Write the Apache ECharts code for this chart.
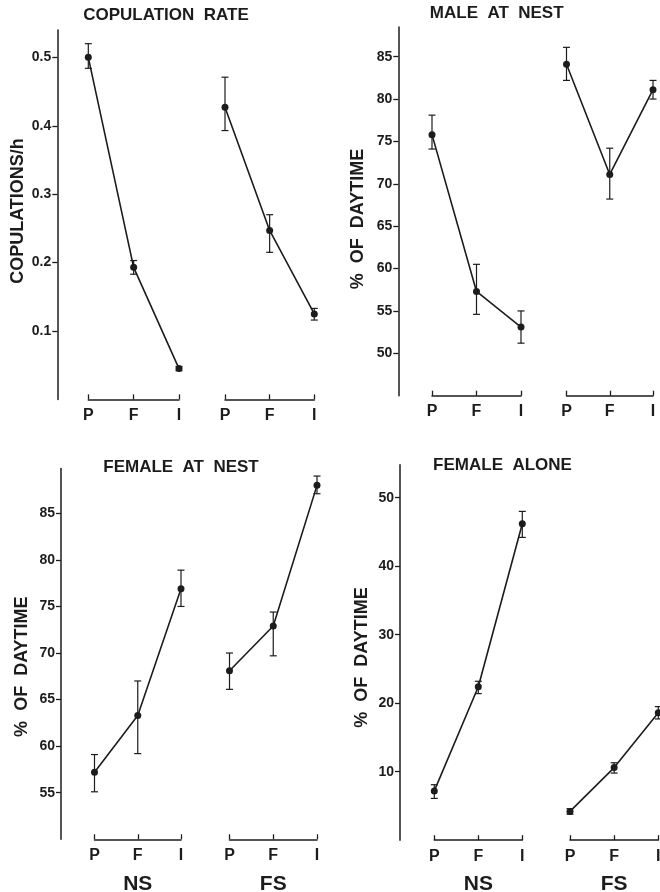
<!DOCTYPE html>
<html>
<head>
<meta charset="utf-8">
<script src="https://cdn.jsdelivr.net/npm/echarts@6.0.0/dist/echarts.min.js"></script>
<style>
  html, body { margin: 0; padding: 0; background: #ffffff; }
  #chart { width: 660px; height: 892px; }
</style>
</head>
<body>
<div id="chart"></div>
<script>
// ---------- data ----------
var categories = ['P', 'F', 'I'];
var groupNames = ['NS', 'FS'];

var panelTitles = ['COPULATION  RATE', 'MALE  AT  NEST', 'FEMALE  AT  NEST', 'FEMALE  ALONE'];
var yNames = ['COPULATIONS/h', '%  OF  DAYTIME', '%  OF  DAYTIME', '%  OF  DAYTIME'];

// Copulation rate
var copNS = [0.500, 0.193, 0.045];
var copNSLo = [0.484, 0.183, 0.042];
var copNSHi = [0.520, 0.203, 0.048];
var copFS = [0.427, 0.247, 0.125];
var copFSLo = [0.393, 0.215, 0.116];
var copFSHi = [0.471, 0.270, 0.133];
var copTicks = [0.1, 0.2, 0.3, 0.4, 0.5];

// Male at nest
var maleNS = [75.8, 57.3, 53.1];
var maleNSLo = [74.1, 54.6, 51.2];
var maleNSHi = [78.1, 60.5, 55.0];
var maleFS = [84.1, 71.1, 81.1];
var maleFSLo = [82.2, 68.2, 80.0];
var maleFSHi = [86.1, 74.2, 82.2];
var maleTicks = [50, 55, 60, 65, 70, 75, 80, 85];

// Female at nest
var femNS = [57.2, 63.3, 76.9];
var femNSLo = [55.1, 59.2, 75.0];
var femNSHi = [59.1, 67.0, 78.9];
var femFS = [68.1, 72.9, 88.0];
var femFSLo = [66.1, 69.7, 87.1];
var femFSHi = [70.0, 74.4, 89.0];
var femTicks = [55, 60, 65, 70, 75, 80, 85];

// Female alone
var aloneNS = [7.2, 22.4, 46.2];
var aloneNSLo = [6.1, 21.4, 44.2];
var aloneNSHi = [8.1, 23.2, 48.0];
var aloneFS = [4.2, 10.6, 18.6];
var aloneFSLo = [3.8, 9.8, 17.7];
var aloneFSHi = [4.6, 11.3, 19.5];
var aloneTicks = [10, 20, 30, 40, 50];

// ---------- layout ----------
var INK = '#1c1c1c';
var FONT = '"Liberation Sans", Arial, Helvetica, sans-serif';

var panels = [
  { ticks: copTicks, min: 0, max: 0.54, top: 30, height: 369.4, offset: 31,
    grids: [{ left: 88.3, width: 90.7 }, { left: 225, width: 89.3 }],
    series: [[copNS, copNSLo, copNSHi], [copFS, copFSLo, copFSHi]],
    groupLabels: false,
    title: [166, 15.5], yName: [18.3, 211] },
  { ticks: maleTicks, min: 45, max: 88.5, top: 27, height: 368.7, offset: 33.7,
    grids: [{ left: 432, width: 89 }, { left: 566.5, width: 86.5 }],
    series: [[maleNS, maleNSLo, maleNSHi], [maleFS, maleFSLo, maleFSHi]],
    groupLabels: false,
    title: [496.7, 13.5], yName: [358.3, 219] },
  { ticks: femTicks, min: 50, max: 89.8, top: 468.6, height: 370.7, offset: 33.5,
    grids: [{ left: 94.5, width: 86.5 }, { left: 229.5, width: 87.5 }],
    series: [[femNS, femNSLo, femNSHi], [femFS, femFSLo, femFSHi]],
    groupLabels: true,
    title: [181, 467.5], yName: [22.5, 666.7] },
  { ticks: aloneTicks, min: 0, max: 54.8, top: 464.8, height: 375.4, offset: 34.3,
    grids: [{ left: 434.3, width: 88 }, { left: 570, width: 88.3 }],
    series: [[aloneNS, aloneNSLo, aloneNSHi], [aloneFS, aloneFSLo, aloneFSHi]],
    groupLabels: true,
    title: [502.5, 465], yName: [361.7, 657.5] }
];

var grid = [], xAxis = [], yAxis = [], series = [], graphic = [];

function errorRender(params, api) {
  var x = api.value(0);
  var pLo = api.coord([x, api.value(1)]);
  var pHi = api.coord([x, api.value(2)]);
  var half = 3.5;
  var style = { stroke: INK, lineWidth: 1.2, fill: null };
  return {
    type: 'group',
    children: [
      { type: 'line', shape: { x1: pLo[0], y1: pLo[1], x2: pHi[0], y2: pHi[1] }, style: style },
      { type: 'line', shape: { x1: pLo[0] - half, y1: pLo[1], x2: pLo[0] + half, y2: pLo[1] }, style: style },
      { type: 'line', shape: { x1: pHi[0] - half, y1: pHi[1], x2: pHi[0] + half, y2: pHi[1] }, style: style }
    ]
  };
}

panels.forEach(function (p, pi) {
  p.grids.forEach(function (g, gi) {
    var idx = grid.length;
    grid.push({
      left: g.left, width: g.width, top: p.top, height: p.height,
      containLabel: false, outerBoundsMode: 'none'
    });
    xAxis.push({
      gridIndex: idx, type: 'category', data: categories, boundaryGap: false,
      axisLine: { show: true, lineStyle: { color: INK, width: 1.5 } },
      axisTick: { show: true, inside: true, length: 5, interval: 0, lineStyle: { color: INK, width: 1.3 } },
      axisLabel: { interval: 0, margin: 8, color: INK, fontSize: 16, fontWeight: 'bold', fontFamily: FONT },
      splitLine: { show: false },
      name: p.groupLabels ? groupNames[gi] : '',
      nameLocation: 'middle', nameGap: 34,
      nameTextStyle: { color: INK, fontSize: 21, fontWeight: 'bold', fontFamily: FONT }
    });
    yAxis.push({
      gridIndex: idx, type: 'value', min: p.min, max: p.max,
      show: gi === 0, offset: p.offset,
      axisLine: { show: true, lineStyle: { color: INK, width: 1.5 } },
      axisTick: { show: true, length: 5, customValues: p.ticks, lineStyle: { color: INK, width: 1.3 } },
      axisLabel: { customValues: p.ticks, margin: 6, color: INK, fontSize: 14, fontWeight: 'bold', fontFamily: FONT },
      splitLine: { show: false }
    });
    var vals = p.series[gi][0], lo = p.series[gi][1], hi = p.series[gi][2];
    series.push({
      type: 'line', xAxisIndex: idx, yAxisIndex: idx,
      data: vals, symbol: 'circle', symbolSize: 7, showSymbol: true,
      lineStyle: { color: INK, width: 1.6 },
      itemStyle: { color: INK },
      animation: false, silent: true, z: 3
    });
    series.push({
      type: 'custom', xAxisIndex: idx, yAxisIndex: idx,
      renderItem: errorRender,
      encode: { x: 0, y: [1, 2] },
      data: categories.map(function (c, i) { return [i, lo[i], hi[i]]; }),
      animation: false, silent: true, z: 2
    });
  });
  graphic.push({
    type: 'text', x: p.title[0], y: p.title[1],
    style: { text: panelTitles[pi], fill: INK, font: 'bold 17px ' + FONT, textAlign: 'center', textVerticalAlign: 'middle' }
  });
  graphic.push({
    type: 'text', x: p.yName[0], y: p.yName[1], rotation: Math.PI / 2,
    style: { text: yNames[pi], fill: INK, font: 'bold 18px ' + FONT, textAlign: 'center', textVerticalAlign: 'middle' }
  });
});

var chart = echarts.init(document.getElementById('chart'), null, { renderer: 'canvas' });
chart.setOption({
  backgroundColor: '#ffffff',
  animation: false,
  grid: grid, xAxis: xAxis, yAxis: yAxis, series: series, graphic: graphic
});
</script>
</body>
</html>
